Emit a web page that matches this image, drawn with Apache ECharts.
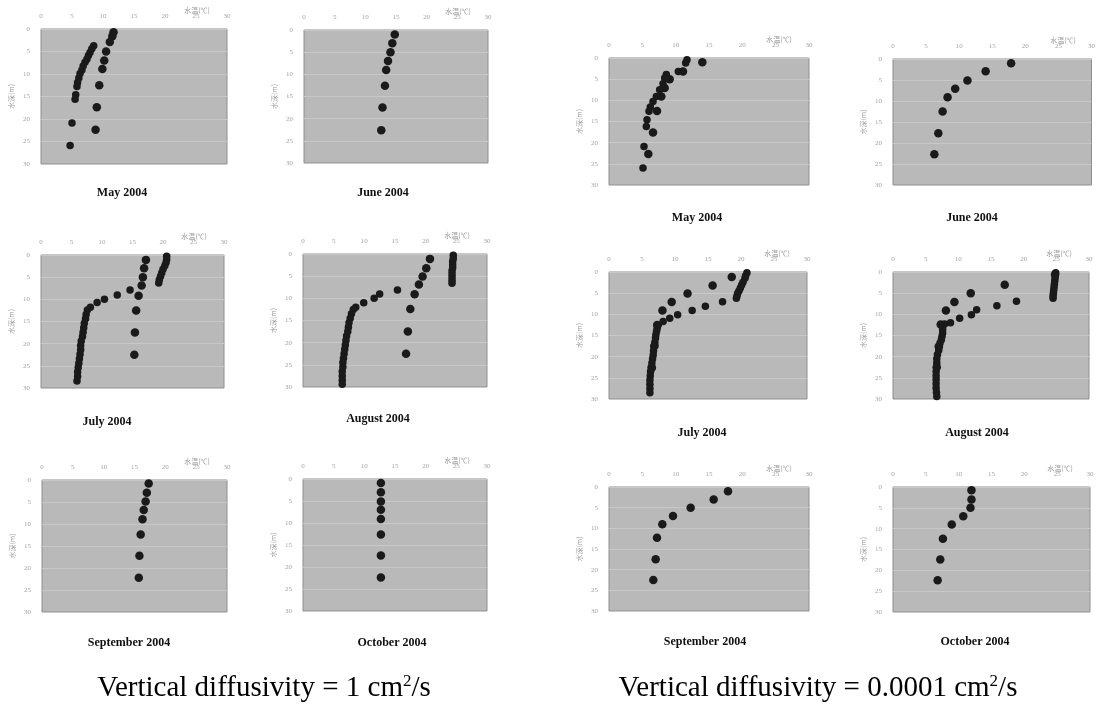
<!DOCTYPE html>
<html><head><meta charset="utf-8">
<script src="https://cdn.jsdelivr.net/npm/echarts@6/dist/echarts.min.js"></script>
<style>html,body{margin:0;padding:0;background:#fff}#c{width:1098px;height:707px}</style>
</head><body><div id="c"></div>
<script>
// ---------- data ----------
const xTicks = [0, 5, 10, 15, 20, 25, 30];
const yTicks = [0, 5, 10, 15, 20, 25, 30];
const xName = '水温(℃)';
const yName = '水深(m)';
const monthTitles = ['May 2004', 'June 2004', 'July 2004', 'August 2004', 'September 2004', 'October 2004'];
const captionLeft = 'Vertical diffusivity = 1 cm';
const captionRight = 'Vertical diffusivity = 0.0001 cm';

// left group: vertical diffusivity = 1 cm2/s   [temperature, depth]
const L_may_a = [[11.7,0.7],[11.5,1.6],[11.1,2.9],[10.5,5.0],[10.2,7.0],[9.9,8.9],[9.4,12.5],[9.0,17.4],[8.8,22.4]];
const L_may_b = [[8.5,3.7],[8.2,4.4],[7.9,5.2],[7.65,5.9],[7.4,6.7],[7.1,7.4],[6.8,8.2],[6.6,9.1],[6.3,9.9],[6.1,10.9],[5.9,11.9],[5.8,12.8],[5.6,14.6],[5.5,15.6],[5.0,20.9],[4.7,25.9]];
const L_jun_a = [[14.8,1.0],[14.4,3.0],[14.1,5.0],[13.7,7.0],[13.4,9.0],[13.2,12.6],[12.8,17.5],[12.6,22.6]];
const L_jul_a = [[17.2,1.1],[16.9,3.0],[16.7,5.0],[16.5,6.9],[16.0,9.2],[15.6,12.5],[15.4,17.5],[15.3,22.5]];
const L_jul_b = [[20.6,0.3],[20.6,1.0],[20.5,1.7],[20.3,2.4],[20.0,3.2],[19.8,4.0],[19.6,4.8],[19.4,5.6],[19.3,6.3],[14.6,7.9],[12.5,9.0],[10.4,10.0],[9.2,10.7],[8.1,11.8],[7.6,12.4],[7.4,13.4],[7.3,14.4],[7.1,15.4],[7.0,16.4],[6.9,17.4],[6.8,18.4],[6.6,19.4],[6.5,20.4],[6.5,21.4],[6.4,22.4],[6.3,23.4],[6.2,24.4],[6.1,25.4],[6.0,26.4],[6.0,27.4],[5.9,28.4]];
const L_aug_a = [[20.7,1.1],[20.1,3.2],[19.5,5.1],[18.9,6.9],[18.2,9.1],[17.5,12.4],[17.1,17.5],[16.8,22.5]];
const L_aug_b = [[24.5,0.3],[24.5,1.0],[24.4,1.7],[24.4,2.4],[24.4,3.1],[24.3,3.8],[24.3,4.5],[24.3,5.2],[24.3,5.9],[24.3,6.6],[15.4,8.1],[12.5,9.0],[11.6,10.0],[9.9,11.0],[8.6,12.0],[8.2,12.5],[7.9,13.5],[7.7,14.5],[7.5,15.5],[7.4,16.5],[7.3,17.5],[7.1,18.5],[7.0,19.5],[6.9,20.5],[6.8,21.5],[6.7,22.5],[6.6,23.5],[6.5,24.5],[6.5,25.5],[6.4,26.5],[6.4,27.5],[6.4,28.5],[6.4,29.4]];
const L_sep_a = [[17.3,0.8],[17.0,2.9],[16.8,4.9],[16.5,6.8],[16.3,8.9],[16.0,12.4],[15.8,17.2],[15.7,22.2]];
const L_oct_a = [[12.7,0.9],[12.7,3.0],[12.7,5.1],[12.7,7.0],[12.7,9.1],[12.7,12.6],[12.7,17.4],[12.7,22.4]];

// right group: vertical diffusivity = 0.0001 cm2/s
const R_may_a = [[14.0,1.0],[11.1,3.2],[9.1,5.0],[8.35,7.1],[7.85,9.1],[7.2,12.5],[6.6,17.6],[5.9,22.7]];
const R_may_b = [[11.7,0.4],[11.5,1.2],[10.4,3.2],[8.6,3.9],[8.35,4.7],[8.1,6.1],[7.6,7.5],[7.1,9.1],[6.6,10.3],[6.2,11.6],[6.0,12.6],[5.7,14.6],[5.6,16.2],[5.25,20.9],[5.1,26.0]];
const R_jun_a = [[17.85,1.0],[14.0,2.9],[11.25,5.1],[9.4,7.1],[8.25,9.1],[7.5,12.5],[6.85,17.7],[6.25,22.7]];
const R_jul_a = [[18.6,1.2],[15.7,3.2],[11.9,5.1],[9.5,7.1],[8.1,9.1],[7.3,12.5],[6.9,17.4],[6.5,22.6]];
const R_jul_b = [[20.9,0.2],[20.7,0.9],[20.6,1.5],[20.3,2.4],[20.1,3.1],[19.9,3.8],[19.7,4.4],[19.5,5.0],[19.4,5.6],[19.3,6.2],[17.2,7.0],[14.6,8.1],[12.6,9.1],[10.4,10.1],[9.2,10.9],[8.2,11.7],[7.45,12.5],[7.3,13.3],[7.2,14.0],[7.1,14.8],[7.05,15.6],[6.95,16.6],[6.8,17.6],[6.75,18.6],[6.7,19.6],[6.6,20.5],[6.5,21.5],[6.4,22.5],[6.3,23.5],[6.25,24.5],[6.2,25.5],[6.2,26.5],[6.2,27.5],[6.2,28.5]];
const R_aug_a = [[24.8,0.6],[17.1,3.0],[11.9,5.0],[9.4,7.1],[8.1,9.1],[7.3,12.4],[7.0,17.6],[6.7,22.5]];
const R_aug_b = [[24.9,0.2],[24.85,0.9],[24.8,1.5],[24.75,2.2],[24.7,2.9],[24.65,3.6],[24.6,4.3],[24.55,5.0],[24.5,5.6],[24.5,6.2],[18.9,6.9],[15.9,8.0],[12.8,8.9],[12.0,10.1],[10.2,10.9],[8.8,12.0],[7.9,12.3],[7.6,13.5],[7.6,14.4],[7.5,15.2],[7.4,16.0],[7.2,16.8],[7.1,17.6],[7.0,18.5],[6.8,19.5],[6.7,20.5],[6.7,21.5],[6.65,22.5],[6.6,23.5],[6.6,24.5],[6.6,25.4],[6.6,26.4],[6.6,27.4],[6.65,28.4],[6.7,29.4]];
const R_sep_a = [[17.85,1.0],[15.7,3.0],[12.25,5.0],[9.6,7.0],[8.0,9.0],[7.2,12.3],[7.0,17.5],[6.65,22.5]];
const R_oct_a = [[11.95,0.8],[11.95,3.0],[11.8,5.0],[10.7,7.0],[8.95,9.0],[7.6,12.4],[7.2,17.4],[6.8,22.4]];

const panelSeries = [
  [L_may_a, L_may_b], [L_jun_a], [L_jul_a, L_jul_b], [L_aug_a, L_aug_b], [L_sep_a], [L_oct_a],
  [R_may_a, R_may_b], [R_jun_a], [R_jul_a, R_jul_b], [R_aug_a, R_aug_b], [R_sep_a], [R_oct_a]
];

// ---------- layout (positions / styles) ----------
const gridPos = [
  [41, 29, 186, 135], [304, 30, 184, 133],
  [41, 255, 183, 133], [303, 254, 184, 133],
  [42, 480, 185, 132], [303, 479, 184, 132],
  [609, 58, 200, 127], [893, 59, 200, 126],
  [609, 272, 198, 127], [893, 272, 196, 127],
  [609, 487, 200, 124], [893, 487, 197, 125]
];
const titlePos = [
  [122, 193], [383, 193], [107, 422], [378, 419], [129, 643], [392, 643],
  [697, 218], [972, 218], [702, 433], [977, 433], [705, 642], [975, 642]
];
const serif = 'Liberation Serif';
const tickColor = '#a3a3a3';

const grids = [], xAxes = [], yAxes = [], series = [], graphics = [];
gridPos.forEach((g, i) => {
  grids.push({left: g[0], top: g[1], width: g[2], height: g[3], show: true,
    backgroundColor: '#b9b9b9', borderColor: '#8e8e8e', borderWidth: 1});
  xAxes.push({type: 'value', gridIndex: i, position: 'top', min: xTicks[0], max: xTicks[xTicks.length-1],
    interval: xTicks[1] - xTicks[0],
    axisLine: {show: false}, axisTick: {show: false}, splitLine: {show: false},
    axisLabel: {fontSize: 7, color: tickColor, margin: 9, fontFamily: serif}});
  yAxes.push({type: 'value', gridIndex: i, inverse: true, min: yTicks[0], max: yTicks[yTicks.length-1],
    interval: yTicks[1] - yTicks[0],
    axisLine: {show: false}, axisTick: {show: false},
    splitLine: {show: true, lineStyle: {color: '#c8c8c8', width: 1}},
    axisLabel: {fontSize: 7, color: tickColor, margin: 11, fontFamily: serif},
    name: yName, nameLocation: 'middle', nameGap: 26, nameRotate: 90,
    nameTextStyle: {fontSize: 7, color: '#9a9a9a', fontFamily: 'Noto Sans CJK SC'}});
  panelSeries[i].forEach((d, k) => {
    series.push({type: 'scatter', xAxisIndex: i, yAxisIndex: i, data: d,
      symbol: 'circle', symbolSize: k === 0 ? 8.5 : 7.5,
      itemStyle: {color: '#1a1a1a', opacity: 1}, silent: true, animation: false});
  });
  graphics.push({type: 'text', x: g[0] + g[2] - 30, y: g[1] - 19,
    style: {text: xName, font: '7px "Noto Sans CJK SC"', fill: '#9a9a9a',
      align: 'center', verticalAlign: 'middle', textAlign: 'center', textVerticalAlign: 'middle'}});
  const t = titlePos[i];
  graphics.push({type: 'text', x: t[0], y: t[1],
    style: {text: monthTitles[i % 6], font: 'bold 12px "Liberation Serif"', fill: '#111',
      align: 'center', verticalAlign: 'middle', textAlign: 'center', textVerticalAlign: 'middle'}});
});

function caption(txt, cx) {
  return {type: 'text', x: cx, y: 688,
    style: {text: '{n|' + txt + '}{s|2}{n|/s}',
      rich: {n: {fontSize: 29, fontFamily: serif, fill: '#000', color: '#000'},
             s: {fontSize: 17, fontFamily: serif, fill: '#000', color: '#000', verticalAlign: 'top', padding: [0,0,11,0]}},
      align: 'center', verticalAlign: 'middle', textAlign: 'center', textVerticalAlign: 'middle'}};
}
graphics.push(caption(captionLeft, 264));
graphics.push(caption(captionRight, 818));

const chart = echarts.init(document.getElementById('c'), null, {renderer: 'canvas'});
chart.setOption({
  animation: false,
  backgroundColor: '#ffffff',
  grid: grids, xAxis: xAxes, yAxis: yAxes, series: series,
  graphic: graphics
});
</script></body></html>
